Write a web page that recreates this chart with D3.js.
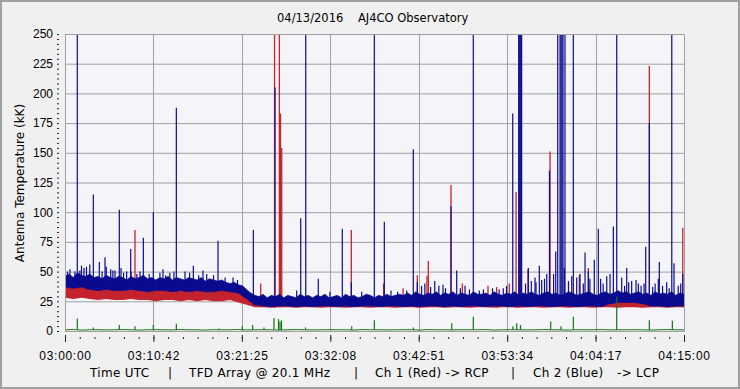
<!DOCTYPE html>
<html>
<head>
<meta charset="utf-8">
<script src="https://cdn.jsdelivr.net/npm/d3@7/dist/d3.min.js"></script>
<style>
  body { margin: 0; background: #f0f0f0; }
  svg { display: block; font-family: "DejaVu Sans", Verdana, sans-serif; }
</style>
</head>
<body>
<script>
// minutes after 03:00:00 UTC, values in kK
let xTickLabels = ["03:00:00","03:10:42","03:21:25","03:32:08","03:42:51","03:53:34","04:04:17","04:15:00"];
let yTicks = [0,25,50,75,100,125,150,175,200,225,250];

// blue band top, every 0.5 min
let blueHi = [46,48,45,49,47,46,48,
  45,46,44,47,45,44,46,45,43,46,44,45,47,44,45,43,
  45,44,46,43,45,44,43,45,44,43,45,42,44,
  43,42,43,41,40,41,39,38,
  35,32,30,
  29,31,28,30,29,31,28,30,29,28,31,29,30,28,30,29,31,28,29,30,28,31,29,30,28,29,31,30,28,30,29,31,29,30,
  31,30,32,30,33,31,30,32,31,33,30,32,31,33,30,32,31,30,33,31,
  31,32,30,33,31,30,32,31,33,30, 32,31,33,31,30,32,33,31,32,30,
  31,33,32,30,31,32,33,31,30,32, 33,31,32,34,32,33,31,32,33,31,
  32,30,33,31,32,31,33,30,32,31];
// band bottoms and red top, every 1 min
let blueLo = [37,36,37,
  35,34,35,34,34,35,34,33,34,34,33,34,33,34,33,33,34,33,
  32,27,22,
  21,20.5,21,21,20.5,21,20.5,21,21,20.5, 21,20.5,21,21,20.5,21,21,20.5,21,20.5,
  21,21,20.5,21,20.5,21,21,20.5,21,21, 20.5,21,20.5,21,21,20.5,21,21,20.5,21,
  21,20.5,23,24,24,24,23,21,21,20.5, 21,21];
let redHi = [38,39,38,
  37,36,37,36,37,36,36,37,36,35,36,36,35,36,35,36,35,35,
  34,30,25,
  24,25,24,24,25,24,25,24,24,25, 24,25,24,24,25,24,24,25,24,25,
  24,24,25,24,25,24,24,25,24,25, 24,25,24,24,25,24,25,24,24,25,
  24,25,26,27,27,26,26,25,24,25, 24,25];
let redLo = [28,27,28,
  27,26,27,26,26,27,26,26,25,26,26,25,26,25,26,25,25,26,
  24,22,20,
  20,19.5,20,20,19.5,20,20,19.5,20,20, 19.5,20,20,19.5,20,20,19.5,20,20,19.5,
  20,20,19.5,20,20,19.5,20,20,19.5,20, 20,19.5,20,20,19.5,20,20,19.5,20,20,
  19.5,20,20,19.5,20,20,19.5,20,20,19.5, 20,20];
let greenBase = [1,1.2,0.8,1,1.1,0.9,1,1.2,1,0.8, 1,1.1,1,0.9,1.2,1,1,0.8,1.1,1,
  1,1.2,0.9,1,1.1,1,0.8,1,1.2,1, 0.9,1,1.1,1,1,0.8,1.2,1,1,0.9,
  1,1.1,1,0.8,1.2,1,1,0.9,1.1,1, 1,1.2,0.8,1,1.1,1,0.9,1,1.2,1,
  1,0.8,1.1,1,1,1.2,0.9,1,1,1.1, 1,0.8,1,1.2,1,1];

// [minute, peak]
let blueSpikes = [[0.3,50],[0.6,52],[1.2,50],[1.49,260],[1.8,51],[2.0,55],[2.3,53],[2.6,54],[3.0,56],[3.43,115],
  [4.16,58],[4.5,50],[4.85,62],[5.0,54],[5.54,52],[5.8,51],[6.06,51],[6.58,102],[6.79,53],[7.1,49],[7.47,50],
  [7.96,69],[8.0,50],[8.7,48],[9.09,50],[9.49,78.5],[10.2,48],[10.7,100],[11.5,49],[11.87,52],[12.2,47],
  [12.7,49],[13.2,50],[13.49,188],[14.54,50],[15.1,49],[15.55,55],[16.2,47],[16.72,51],[17.17,48],[18.0,47],
  [18.54,76],[19.4,45],[20.36,45],[20.9,43],[22.82,85],[25.45,205],[28.07,34],[28.56,95],[29.17,260],
  [30.69,44],[32.1,33],[33.6,86],[34.69,41],[35.95,33],[37.48,260],[38.69,92],[39.5,34],[40.3,33],[41.4,34],
  [42.2,153],[42.69,41],[43.2,38],[43.6,40],[44.3,37],[44.8,42],[45.3,38],[45.8,39],[46.1,36],[46.77,105],
  [47.46,51],[47.9,36],[48.47,38],[49.0,35],[49.47,260],[50.2,34],[50.69,35],[51.8,36],[52.6,35],[53.1,36],
  [53.5,38],[54.25,183],[54.97,260],[55.09,260],[55.21,260],[55.33,260],[55.8,40],[56.14,53],[56.5,42],
  [56.95,45],[57.07,41],[57.47,55],[57.76,43],[58.1,44],[58.37,48],[58.7,135],[59.2,48],[59.46,67],[59.7,260],
  [59.98,260],[60.1,260],[60.22,260],[60.34,260],[60.5,53],[60.58,260],[61.0,42],[61.4,46],[61.59,260],
  [62.0,45],[62.4,48],[62.8,40],[63.01,66],[63.41,50],[63.6,44],[64.13,60],[64.62,86],[64.9,44],[65.2,40],
  [65.64,46],[66.04,48],[66.44,88],[66.85,260],[67.45,45],[67.8,38],[68.06,53],[68.3,41],[68.66,42],
  [69.19,43],[69.47,40],[69.8,38],[70.16,40],[70.36,71],[70.8,175],[71.2,37],[71.5,40],[71.89,44],[72.01,58],
  [72.4,38],[72.9,41],[73.2,36],[73.52,260],[73.79,57],[74.3,38],[74.6,40],[74.85,48]];
let redSpikes = [[8.48,85],[23.71,40],[25.39,260],[25.97,260],[26.11,183],[26.26,154],[34.69,85],[38.6,40],
  [40.96,36],[42.69,47],[43.86,46.5],[44.02,59],[46.77,123],[48.14,40],[51.25,38],[52.3,37],[53.83,40],
  [54.65,117],[56.1,52],[58.77,151],[62.32,47],[63.41,53],[70.8,223],[74.85,87]];
let greenSpikes = [[1.49,10.5],[3.43,3],[6.58,5],[8.48,4],[10.7,5],[13.49,6],[18.66,2],[21.48,4],[22.74,5],
  [24.11,3],[25.32,11],[25.87,10],[26.05,8],[26.23,9],[29.14,3],[34.74,4],[37.48,9],[42.2,3],[46.86,6.5],
  [49.47,12],[54.28,4],[54.73,6.5],[55.19,5],[58.85,8],[60.1,4],[61.59,12],[66.85,29],[70.8,9],[73.59,8.7]];

let w = 740, h = 389;
let pLeft = 65, pRight = 684, pTop = 34, pBottom = 331;

let svg = d3.select('body').append('svg')
  .attr('width', w).attr('height', h);

svg.append('rect')
  .attr('x', 1).attr('y', 1).attr('width', w - 2).attr('height', h - 2)
  .attr('fill', '#f0f0f0').attr('stroke', '#a0a0a0').attr('stroke-width', 2);

let x = d3.scaleLinear().domain([0, 75]).range([pLeft, pRight]);
let y = d3.scaleLinear().domain([0, 250]).range([pBottom, pTop]);

let majorT = xTickLabels.map((d, i) => i * 75 / 7);
let minorT = d3.range(0, 43).map(i => i * 75 / 42);
let minorY = d3.range(0, 61).map(i => i * 250 / 60);

svg.append('rect')
  .attr('x', pLeft).attr('y', pTop).attr('width', pRight - pLeft).attr('height', pBottom - pTop)
  .attr('fill', '#f5f5f9');

svg.append('defs').append('clipPath').attr('id', 'clip')
  .append('rect').attr('x', pLeft).attr('y', pTop).attr('width', pRight - pLeft).attr('height', pBottom - pTop);

// grid
svg.append('g').selectAll('line').data(yTicks.slice(1, -1)).enter().append('line')
  .attr('x1', pLeft).attr('x2', pRight).attr('y1', d => y(d) + 0.5).attr('y2', d => y(d) + 0.5)
  .attr('stroke', '#a0a0a0');
svg.append('g').selectAll('line').data(majorT.slice(1, -1)).enter().append('line')
  .attr('y1', pTop).attr('y2', pBottom).attr('x1', d => Math.round(x(d)) + 0.5).attr('x2', d => Math.round(x(d)) + 0.5)
  .attr('stroke', '#a0a0a0');

let plot = svg.append('g').attr('clip-path', 'url(#clip)');

let band = (hi, lo) => {
  let pts = hi.map((v, i) => [i * 0.5, v]).concat(lo.map((v, i) => [i, v]).reverse());
  return d3.line().x(d => x(d[0])).y(d => y(d[1]))(pts) + 'Z';
};
let spikes = (g, data, base, color, sw) => {
  g.selectAll(null).data(data).enter().append('line')
    .attr('x1', d => x(d[0])).attr('x2', d => x(d[0]))
    .attr('y1', d => y(base[Math.round(d[0])])).attr('y2', d => y(d[1]))
    .attr('stroke', color).attr('stroke-width', sw);
};

let red = '#c4232e', blue = '#0b0b8f', green = '#137413';

// Ch 1 (red)
plot.append('path').attr('d', band(redHi.flatMap(v => [v, v]).slice(0, 151), redLo))
  .attr('fill', red);
spikes(plot, redSpikes, redLo, red, 1.3);

// Ch 2 (blue)
plot.append('path').attr('d', band(blueHi, blueLo)).attr('fill', blue)
  .attr('stroke', blue).attr('stroke-width', 0.6);
spikes(plot, blueSpikes, blueLo, blue, 1.2);

// green
plot.append('path').datum(greenBase)
  .attr('d', d3.line().x((d, i) => x(i)).y(d => y(d)))
  .attr('fill', 'none').attr('stroke', green).attr('stroke-width', 1);
spikes(plot, greenSpikes, greenBase, green, 1.2);

svg.append('rect')
  .attr('x', pLeft + 0.5).attr('y', pTop + 0.5).attr('width', pRight - pLeft).attr('height', pBottom - pTop)
  .attr('fill', 'none').attr('stroke', '#a0a0a0');

// axes
let xAxis = svg.append('g').attr('transform', `translate(0,${pBottom + 4})`)
  .call(d3.axisBottom(x).tickValues(majorT).tickFormat((d, i) => xTickLabels[i]).tickSize(7).tickPadding(9));
let xMinor = svg.append('g').attr('transform', `translate(0,${pBottom + 6})`)
  .call(d3.axisBottom(x).tickValues(minorT).tickFormat('').tickSize(2));
let yAxis = svg.append('g').attr('transform', `translate(59,0)`)
  .call(d3.axisLeft(y).tickValues(yTicks).tickSize(0).tickPadding(6));
let yMinor = svg.append('g').attr('transform', `translate(59,0)`)
  .call(d3.axisLeft(y).tickValues(minorY).tickFormat('').tickSize(2));

svg.selectAll('.domain').remove();
svg.selectAll('.tick line').attr('stroke', '#222');
xAxis.selectAll('text').style('font-size', '12px').style('letter-spacing', '0.7px').attr('fill', '#000');
yAxis.selectAll('text').style('font-size', '12px').attr('fill', '#000');

svg.append('text')
  .attr('transform', 'translate(24,183) rotate(-90)')
  .attr('text-anchor', 'middle')
  .style('font-size', '12px')
  .text('Antenna Temperature (kK)');

svg.append('text')
  .attr('x', 277).attr('y', 22)
  .style('font-size', '11.5px').attr('xml:space', 'preserve')
  .text('04/13/2016    AJ4CO Observatory');

let footer = [['Time UTC', 90], ['|', 168], ['TFD Array @ 20.1 MHz', 189], ['|', 354],
  ['Ch 1 (Red) -> RCP', 375], ['|', 511], ['Ch 2 (Blue)', 533], ['-> LCP', 617]];
svg.append('g').selectAll('text').data(footer).enter().append('text')
  .attr('x', d => d[1]).attr('y', 377)
  .style('font-size', '12px').style('letter-spacing', '0.3px')
  .text(d => d[0]);
</script>
</body>
</html>
